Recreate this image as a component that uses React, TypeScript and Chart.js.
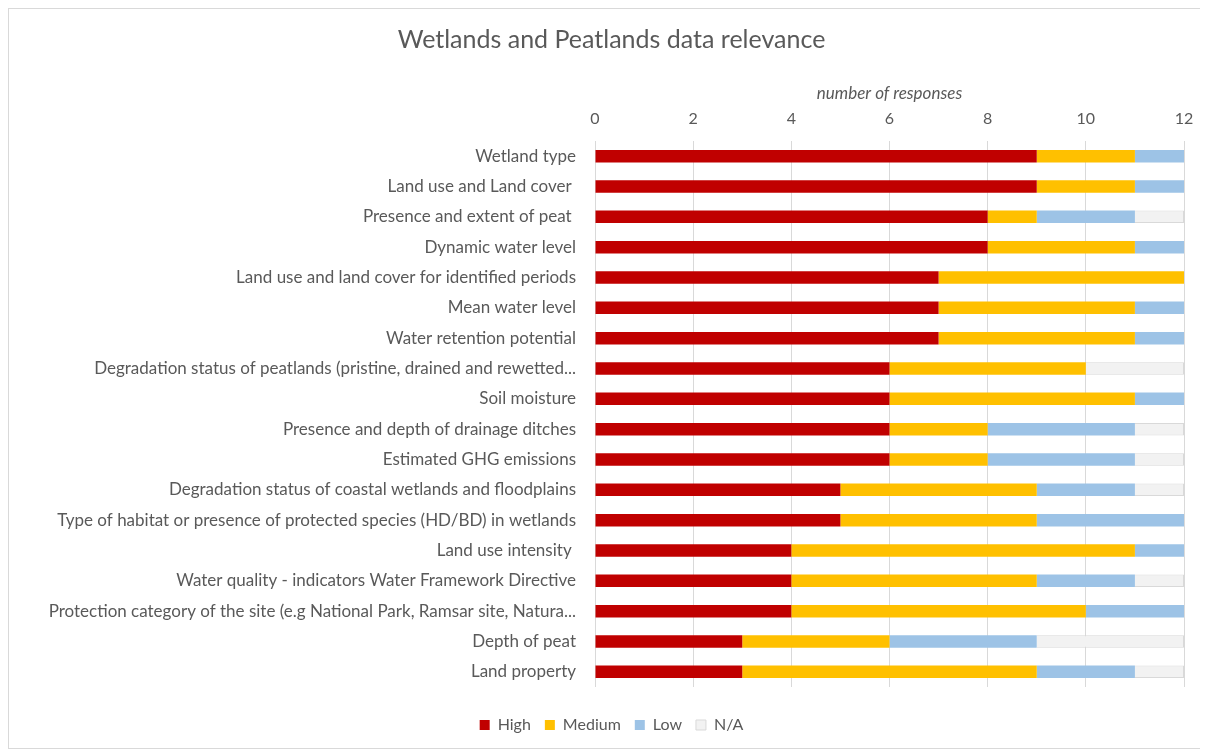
import React, { useEffect, useRef } from "react";
import { Chart, registerables } from "chart.js";

Chart.register(...registerables);

const chartTitle = "Wetlands and Peatlands data relevance";
const axisTitle = "number of responses";

const categories = [
  "Wetland type",
  "Land use and Land cover ",
  "Presence and extent of peat ",
  "Dynamic water level",
  "Land use and land cover for identified periods",
  "Mean water level",
  "Water retention potential",
  "Degradation status of peatlands (pristine, drained and rewetted...",
  "Soil moisture",
  "Presence and depth of drainage ditches",
  "Estimated GHG emissions",
  "Degradation status of coastal wetlands and floodplains",
  "Type of habitat or presence of protected species (HD/BD) in wetlands",
  "Land use intensity ",
  "Water quality - indicators Water Framework Directive",
  "Protection category of the site (e.g National Park, Ramsar site, Natura...",
  "Depth of peat",
  "Land property",
];

const highValues = [9, 9, 8, 8, 7, 7, 7, 6, 6, 6, 6, 5, 5, 4, 4, 4, 3, 3];
const mediumValues = [2, 2, 1, 3, 5, 4, 4, 4, 5, 2, 2, 4, 4, 7, 5, 6, 3, 6];
const lowValues = [1, 1, 2, 1, 0, 1, 1, 0, 1, 3, 3, 2, 3, 1, 2, 2, 3, 2];
const naValues = [0, 0, 1, 0, 0, 0, 0, 2, 0, 1, 1, 1, 0, 0, 1, 0, 3, 1];

const xTicks = [0, 2, 4, 6, 8, 10, 12];

const FONT = "Lato, 'Open Sans', sans-serif";
const TEXT = "#595959";

export default function App() {
  const ref = useRef<HTMLCanvasElement | null>(null);

  useEffect(() => {
    if (!ref.current) return;
    const chart = new Chart(ref.current, {
      type: "bar",
      data: {
        labels: categories,
        datasets: [
          { label: "High", data: highValues, backgroundColor: "#C00000", borderWidth: 0 },
          { label: "Medium", data: mediumValues, backgroundColor: "#FFC000", borderWidth: 0 },
          { label: "Low", data: lowValues, backgroundColor: "#9DC3E6", borderWidth: 0 },
          { label: "N/A", data: naValues, backgroundColor: "#F2F2F2", borderColor: "#D9D9D9", borderWidth: 1 },
        ],
      },
      options: {
        indexAxis: "y",
        animation: false,
        responsive: true,
        maintainAspectRatio: false,
        datasets: { bar: { barPercentage: 1, categoryPercentage: 0.41 } },
        layout: { padding: { left: 30, right: 23, top: 0, bottom: 5 } },
        scales: {
          x: {
            position: "top",
            stacked: true,
            min: 0,
            max: 12,
            afterBuildTicks: (scale: any) => {
              scale.ticks = xTicks.map((v) => ({ value: v }));
            },
            afterFit: (scale: any) => {
              scale.height = 62;
            },
            ticks: { font: { family: FONT, size: 16 }, color: TEXT, padding: 13 },
            grid: { color: "#D9D9D9", lineWidth: 1, drawTicks: false },
            border: { display: false },
            title: {
              display: true,
              text: axisTitle,
              font: { family: FONT, size: 17, style: "italic" },
              color: TEXT,
              padding: { top: 4, bottom: 0 },
            },
          },
          y: {
            stacked: true,
            afterFit: (scale: any) => {
              scale.width = 556;
            },
            ticks: { font: { family: FONT, size: 17 }, color: TEXT, padding: 19, autoSkip: false },
            grid: { display: false, drawTicks: false },
            border: { display: false },
          },
        },
        plugins: {
          title: {
            display: true,
            text: chartTitle,
            font: { family: FONT, size: 25, weight: "normal" },
            color: TEXT,
            padding: { top: 16, bottom: 24 },
          },
          legend: {
            position: "bottom",
            title: { display: true, text: "", font: { size: 10 }, padding: { top: 4, bottom: 0 } },
            labels: {
              boxWidth: 10,
              boxHeight: 10,
              padding: 14,
              font: { family: FONT, size: 16 },
              color: TEXT,
            },
          },
          tooltip: { enabled: false },
        },
      },
    });
    return () => chart.destroy();
  }, []);

  return (
    <div
      style={{
        width: 1200,
        height: 741,
        border: "1px solid #D9D9D9",
        boxSizing: "border-box",
        position: "relative",
        background: "#fff",
      }}
    >
      <canvas ref={ref} />
    </div>
  );
}
